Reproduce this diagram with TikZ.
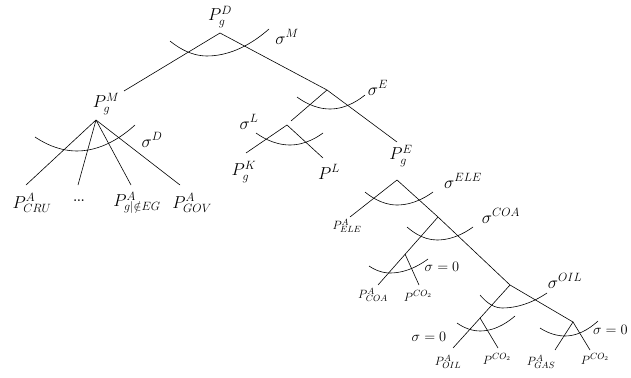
\documentclass[tikz,border=0pt]{standalone}
\begin{document}
\begin{tikzpicture}[x=1pt,y=-1pt,
  big/.style={inner sep=0pt,font=\fontsize{18}{20}\selectfont},
  small/.style={inner sep=0pt,font=\fontsize{12.5}{14}\selectfont},
  zero/.style={inner sep=0pt,font=\fontsize{14}{16}\selectfont},
  br/.style={line width=0.6pt},
  sarc/.style={line width=0.6pt}]
\useasboundingbox (0,0) rectangle (631,377);
% apex / branch points
\coordinate (D) at (220,33);
\coordinate (M) at (96,120);
\coordinate (En) at (327,90);
\coordinate (L) at (287,125);
\coordinate (Lin) at (291,121);
\coordinate (Eend) at (397,142);
\coordinate (Ea) at (397,180);
\coordinate (COA) at (438,217);
\coordinate (COAend) at (378,285);
\coordinate (COAz) at (405,254);
\coordinate (OIL) at (510,285);
\coordinate (OILend) at (453,348);
\coordinate (OILz) at (480,318);
\coordinate (GAS) at (573,322);
\coordinate (Mend) at (124,91);
% leaf ends
\coordinate (m1) at (26,185);
\coordinate (m2) at (78,185);
\coordinate (m3) at (131,185);
\coordinate (m4) at (180,185);
\coordinate (l1) at (246,153);
\coordinate (l2) at (323,158);
\coordinate (ele) at (350,217);
\coordinate (coaco) at (419,285);
\coordinate (oilco) at (498,348);
\coordinate (g1) at (555,350);
\coordinate (g2) at (590,350);
% branches
\draw[br] (D) -- (Mend);
\draw[br] (D) -- (En) -- (Eend);
\draw[br] (En) -- (Lin);
\draw[br] (l1) -- (L) -- (l2);
\draw[br] (M) -- (m1);
\draw[br] (M) -- (m2);
\draw[br] (M) -- (m3);
\draw[br] (M) -- (m4);
\draw[br] (ele) -- (Ea) -- (COA) -- (OIL) -- (GAS);
\draw[br] (COA) -- (COAend);
\draw[br] (COAz) -- (coaco);
\draw[br] (OIL) -- (OILend);
\draw[br] (OILz) -- (oilco);
\draw[br] (g1) -- (GAS) -- (g2);
% substitution arcs
\draw[sarc] (170,41) parabola bend (207,56) (269,29);
\draw[sarc] (35,137) parabola bend (77,151) (135,125);
\draw[sarc] (297,97) parabola bend (330,109) (365,95);
\draw[sarc] (256,133) parabola bend (290,145) (323,133);
\draw[sarc] (365,192) parabola bend (397,205) (433,192);
\draw[sarc] (407,227) parabola bend (437,240) (473,227);
\draw[sarc] (369,266) parabola bend (390,273) (428,259);
\draw[sarc] (480,295) parabola bend (502,308) (547,293);
\draw[sarc] (457,323) parabola bend (480,331) (515,316);
\draw[sarc] (540,328) parabola bend (565,336) (598,321);
% labels
\node[big] (tPD) at (220,17) {$P_g^D$};
\node[big] (tsM) at (287,37) {$\sigma^M$};
\node[big] (tPM) at (106,104) {$P_g^M$};
\node[big] (tsD) at (152,140) {$\sigma^D$};
\node[big] (tCRU) at (32,203) {$P^A_{CRU}$};
\node[inner sep=0pt,font=\fontsize{12}{14}\selectfont\bfseries] (tdots) at (79,201) {...};
\node[big] (tgEG) at (137,203) {$P^A_{g|\notin EG}$};
\node[big] (tGOV) at (192,203) {$P^A_{GOV}$};
\node[big] (tsE) at (378,88) {$\sigma^E$};
\node[big] (tsL) at (249,122) {$\sigma^L$};
\node[big] (tPK) at (244,172) {$P_g^K$};
\node[big] (tPL) at (329,172) {$P^L$};
\node[big] (tPE) at (401,156) {$P_g^E$};
\node[big] (tsELE) at (463,181) {$\sigma^{ELE}$};
\node[small] (tELE) at (347,226) {$P^A_{ELE}$};
\node[big] (tsCOA) at (501,216) {$\sigma^{COA}$};
\node[zero] (tz1) at (442,267) {$\sigma=0$};
\node[small] (tCOA) at (373,295) {$P^A_{COA}$};
\node[small] (tco1) at (418,296) {$P^{CO_2}$};
\node[big] (tsOIL) at (565,281) {$\sigma^{OIL}$};
\node[zero] (tz2) at (429,337) {$\sigma=0$};
\node[small] (tOIL) at (448,362) {$P^A_{OIL}$};
\node[small] (tco2) at (497,359) {$P^{CO_2}$};
\node[small] (tGAS) at (541,362) {$P^A_{GAS}$};
\node[small] (tco3) at (595,359) {$P^{CO_2}$};
\node[zero,anchor=west] (tz3) at (593,330) {$\sigma=0$};
\end{tikzpicture}
\end{document}
